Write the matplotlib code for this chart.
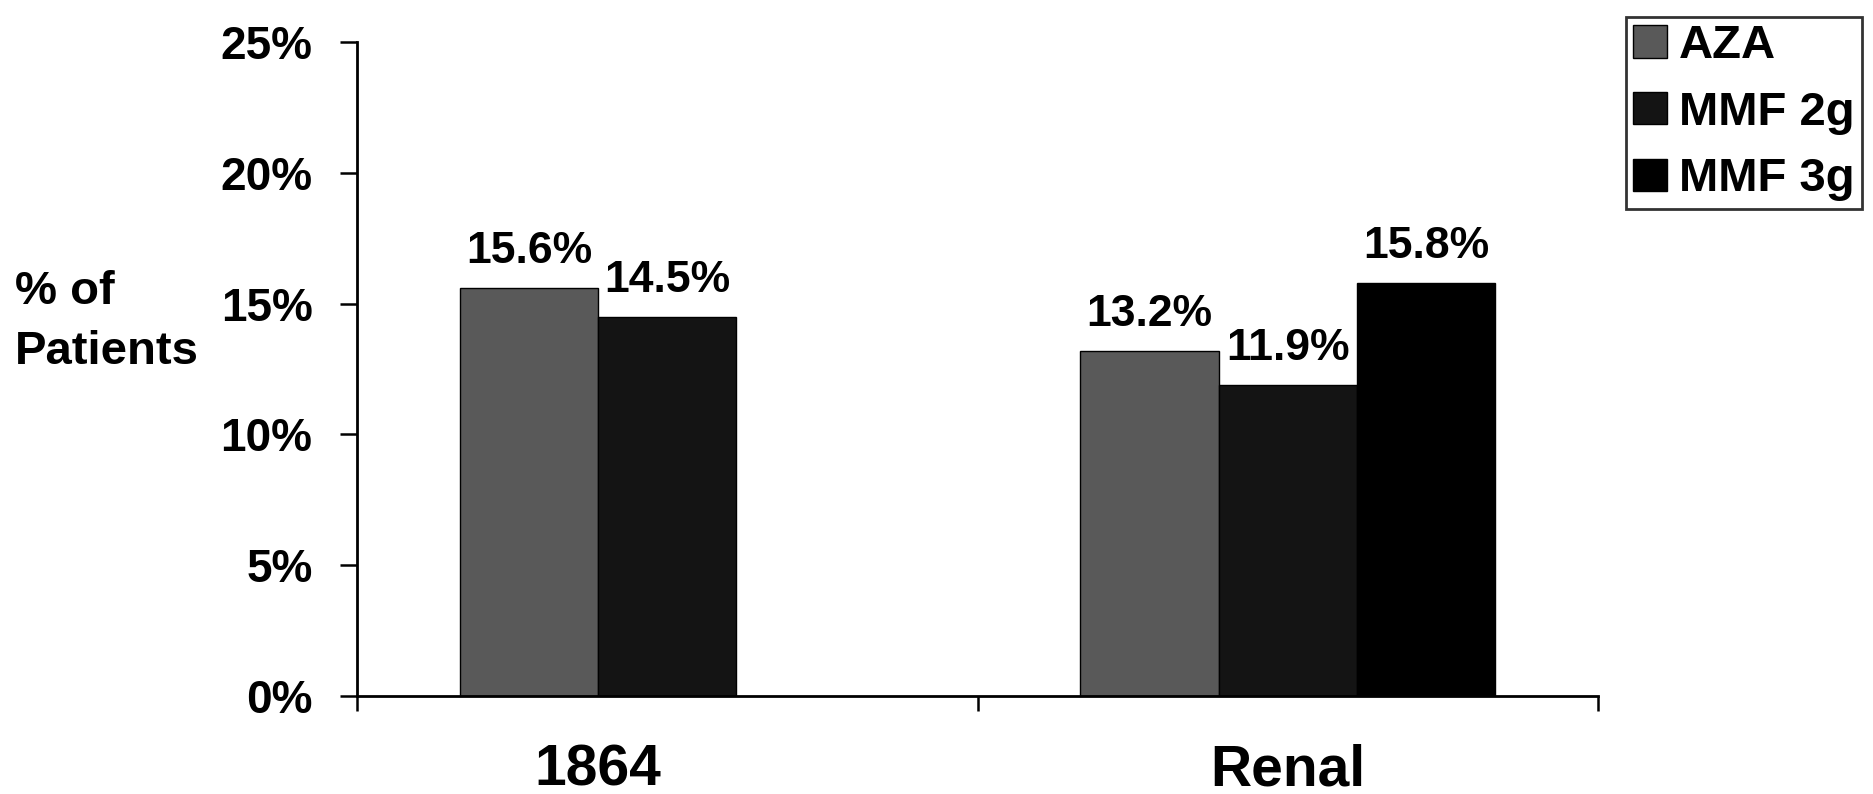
import numpy as np
import matplotlib.pyplot as plt

plt.rcParams['font.family'] = ['Liberation Sans', 'DejaVu Sans']
plt.rcParams['font.weight'] = 'bold'

categories = ['1864', 'Renal']
series = ['AZA', 'MMF 2g', 'MMF 3g']
aza = [15.6, 13.2]
mmf2 = [14.5, 11.9]
mmf3 = [np.nan, 15.8]
colors = ['#595959', '#141414', '#000000']

fig = plt.figure(figsize=(18.73, 7.94), dpi=100)
ax = fig.add_axes([0.1906, 0.1234, 0.6626, 0.8237])

x = np.arange(len(categories))
w = 0.223
offsets = [-w, 0, w]
for i, vals in enumerate([aza, mmf2, mmf3]):
    pos = x + offsets[i]
    ax.bar(pos, vals, w, color=colors[i], edgecolor='black', linewidth=1, label=series[i])
    for p, v in zip(pos, vals):
        if not np.isnan(v):
            ax.text(p, v + 0.95, f'{v:.1f}%', ha='center', va='baseline', fontsize=32, fontweight='bold')

# category label sits at the middle of the bars actually drawn
label_pos = []
for c in range(len(categories)):
    vals = [aza[c], mmf2[c], mmf3[c]]
    centers = [c + offsets[i] for i, v in enumerate(vals) if not np.isnan(v)]
    label_pos.append(np.mean(centers))

ax.set_xlim(-0.5, 1.5)
ax.set_ylim(0, 25)
ax.set_yticks([0, 5, 10, 15, 20, 25])
ax.set_yticklabels(['0%', '5%', '10%', '15%', '20%', '25%'], fontsize=33, fontweight='bold')
ax.set_xticks([-0.5, 0.5, 1.5])
ax.set_xticklabels([])
ax.set_xticks(label_pos, minor=True)
ax.set_xticklabels(categories, minor=True, fontsize=41, fontweight='bold')
ax.tick_params(axis='x', which='minor', length=0, pad=34)
ax.tick_params(axis='x', which='major', length=11, width=1.8, direction='out')
ax.tick_params(axis='y', length=12, width=1.8, direction='out', pad=20)

for s in ['top', 'right']:
    ax.spines[s].set_visible(False)
for s in ['left', 'bottom']:
    ax.spines[s].set_linewidth(2)

fig.text(15 / 1873, 1 - 322 / 794, '% of\nPatients', ha='left', va='center',
         fontsize=34, fontweight='bold', linespacing=1.45)

leg = ax.legend(loc='upper left', bbox_to_anchor=(1626 / 1873, 1 - 17 / 794),
                bbox_transform=fig.transFigure, fontsize=34, frameon=True,
                fancybox=False, handlelength=0.72, handleheight=0.68,
                handletextpad=0.25, borderpad=0.15, labelspacing=0.48, borderaxespad=0)
leg.get_frame().set_edgecolor('black')
leg.get_frame().set_linewidth(2)
for t in leg.get_texts():
    t.set_fontweight('bold')

fig.savefig('out.png', dpi=100)
